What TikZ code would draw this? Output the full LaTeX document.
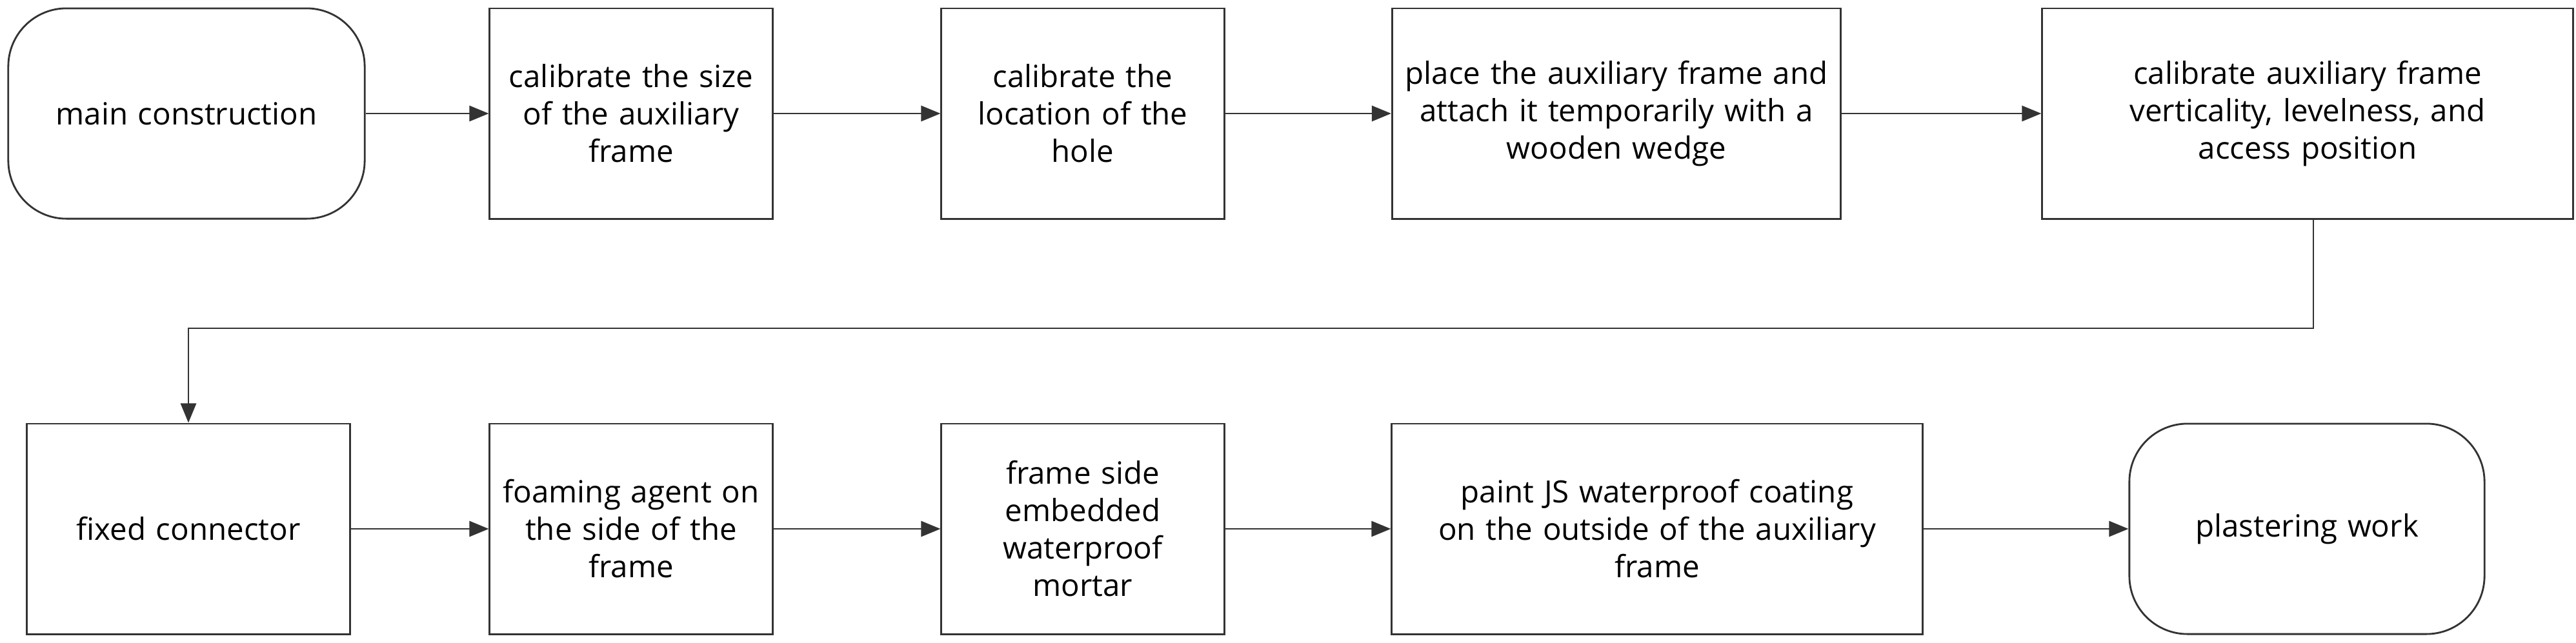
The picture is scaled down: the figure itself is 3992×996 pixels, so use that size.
\documentclass[tikz,border=0pt]{standalone}
\usepackage{fontspec}
\setmainfont{Open Sans}
\usetikzlibrary{arrows.meta}

\tikzset{
  task/.style={draw=black!80, line width=0.8pt, align=center, inner sep=2pt,
    font=\fontsize{13.5}{16.5}\selectfont},
  term/.style={task, rounded corners=0.9cm},
  flow/.style={draw=black!80, line width=0.8pt, -{Triangle[length=0.3cm,width=0.24cm]}}
}

\begin{document}
\begin{tikzpicture}[x=0.01cm, y=-0.01cm]
  \useasboundingbox (0,0) rectangle (3992,996);
  % top row
  \node[term, minimum width=5.52cm, minimum height=3.26cm, text width=5.2cm] (main) at (289,176) {main construction};
  \node[task, minimum width=4.38cm, minimum height=3.26cm, text width=4.1cm] (size) at (978,176) {calibrate the size\\of the auxiliary\\frame};
  \node[task, minimum width=4.38cm, minimum height=3.26cm, text width=4.1cm] (hole) at (1678,176) {calibrate the\\location of the\\hole};
  \node[task, minimum width=6.95cm, minimum height=3.26cm, text width=6.7cm] (place) at (2505,176) {place the auxiliary frame and\\attach it temporarily with a\\wooden wedge};
  \node[task, minimum width=8.22cm, minimum height=3.26cm, text width=8cm] (vert) at (3576,176) {calibrate auxiliary frame\\verticality, levelness, and\\access position};
  % bottom row
  \node[task, minimum width=5.01cm, minimum height=3.26cm, text width=4.8cm] (fix) at (292,820) {fixed connector};
  \node[task, minimum width=4.38cm, minimum height=3.26cm, text width=4.1cm] (foam) at (978,820) {foaming agent on\\the side of the\\frame};
  \node[task, minimum width=4.38cm, minimum height=3.26cm, text width=4.1cm] (mortar) at (1678,820) {frame side\\embedded\\waterproof\\mortar};
  \node[task, minimum width=8.22cm, minimum height=3.26cm, text width=8cm] (paint) at (2568,820) {paint JS waterproof coating\\on the outside of the auxiliary\\frame};
  \node[term, minimum width=5.5cm, minimum height=3.26cm, text width=5.2cm] (plaster) at (3575,820) {plastering work};
  \coordinate (turnA) at (3585,509);
  \coordinate (turnB) at (292,509);

  \draw[flow] (main) -- (size);
  \draw[flow] (size) -- (hole);
  \draw[flow] (hole) -- (place);
  \draw[flow] (place) -- (vert);
  \draw[flow] (vert.south -| turnA) -- (turnA) -- (turnB) -- (fix.north);
  \draw[flow] (fix) -- (foam);
  \draw[flow] (foam) -- (mortar);
  \draw[flow] (mortar) -- (paint);
  \draw[flow] (paint) -- (plaster);
\end{tikzpicture}
\end{document}
